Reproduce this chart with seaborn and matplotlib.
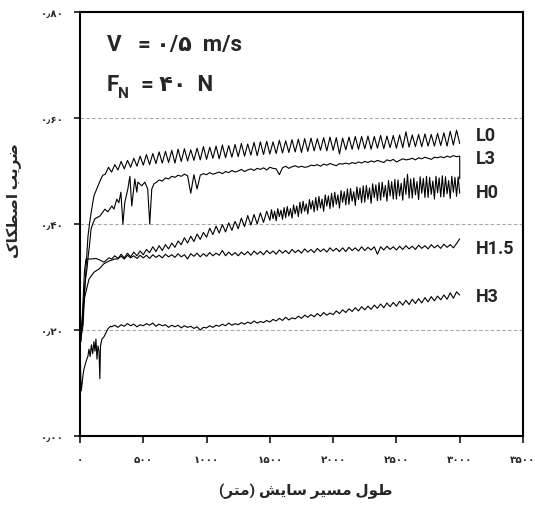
import numpy as np
import pandas as pd
import seaborn as sns
import matplotlib
matplotlib.use("Agg")
import matplotlib.pyplot as plt
from matplotlib.ticker import FuncFormatter

# 1. Data (distance in m, coefficient of friction)

# L0
l0_run_x = [0, 10, 25, 32, 47, 63, 75, 87, 110, 142, 165, 180]
l0_run_y = [0.20, 0.19, 0.21, 0.25, 0.315, 0.377, 0.40, 0.42, 0.453, 0.472, 0.485, 0.492]
l0_start, l0_step = 200, 25
l0_vals = [
    0.494, 0.507, 0.498, 0.512, 0.502, 0.518, 0.504, 0.520, 0.507, 0.524,
    0.509, 0.528, 0.511, 0.531, 0.512, 0.533, 0.514, 0.536, 0.515, 0.537,
    0.516, 0.539, 0.515, 0.541, 0.518, 0.542, 0.519, 0.540, 0.520, 0.543,
    0.521, 0.546, 0.522, 0.545, 0.524, 0.547, 0.523, 0.549, 0.525, 0.548,
    0.526, 0.550, 0.527, 0.552, 0.528, 0.551, 0.530, 0.554, 0.529, 0.555,
    0.531, 0.556, 0.532, 0.555, 0.533, 0.558, 0.534, 0.557, 0.535, 0.559,
    0.536, 0.560, 0.535, 0.561, 0.537, 0.562, 0.538, 0.561, 0.539, 0.563,
    0.538, 0.564, 0.539, 0.563, 0.532, 0.562, 0.540, 0.564, 0.541, 0.565,
    0.541, 0.565, 0.542, 0.566, 0.541, 0.565, 0.543, 0.567, 0.542, 0.566,
    0.544, 0.567, 0.543, 0.568, 0.544, 0.574, 0.545, 0.568, 0.546, 0.569,
    0.546, 0.570, 0.547, 0.569, 0.547, 0.571, 0.548, 0.572, 0.547, 0.575,
    0.549, 0.577, 0.552]

# L3
l3_run_x = [0, 10, 25, 40, 55, 65, 75, 87, 100, 118, 157, 197, 220, 252, 268, 291,
            307, 323, 339, 354, 378, 394, 409, 433, 449, 457, 488, 512, 535, 551, 567, 585]
l3_run_y = [0.19, 0.20, 0.24, 0.29, 0.315, 0.34, 0.36, 0.39, 0.40, 0.41, 0.415, 0.428,
            0.423, 0.434, 0.428, 0.447, 0.44, 0.46, 0.40, 0.441, 0.466, 0.49, 0.434, 0.485,
            0.46, 0.479, 0.472, 0.479, 0.466, 0.40, 0.466, 0.476]
l3_start, l3_step = 600, 25
l3_vals = [
    0.478, 0.483, 0.481, 0.487, 0.485, 0.490, 0.488, 0.492, 0.490, 0.494,
    0.491, 0.458, 0.493, 0.466, 0.492, 0.495, 0.493, 0.497, 0.494, 0.496,
    0.498, 0.495, 0.499, 0.497, 0.501, 0.498, 0.500, 0.503, 0.499, 0.502,
    0.504, 0.501, 0.505, 0.503, 0.506, 0.502, 0.507, 0.505, 0.504, 0.493,
    0.506, 0.509, 0.505, 0.508, 0.510, 0.507, 0.509, 0.507, 0.508, 0.511,
    0.510, 0.512, 0.509, 0.513, 0.511, 0.514, 0.512, 0.510, 0.514, 0.513,
    0.515, 0.513, 0.516, 0.514, 0.517, 0.515, 0.518, 0.516, 0.519, 0.517,
    0.520, 0.518, 0.516, 0.521, 0.519, 0.522, 0.517, 0.520, 0.523, 0.521,
    0.522, 0.524, 0.521, 0.525, 0.523, 0.526, 0.524, 0.522, 0.526, 0.525,
    0.527, 0.525, 0.528, 0.526, 0.529, 0.527, 0.528]
l3_end_x = [3000]
l3_end_y = [0.485]

# H0
h0_run_x = [0, 8, 24, 35, 47, 71, 110, 150, 189, 228, 276]
h0_run_y = [0.20, 0.178, 0.23, 0.26, 0.272, 0.296, 0.309, 0.315, 0.325, 0.33, 0.334]
h0_start, h0_step = 300, 25
h0_vals = [
    0.334, 0.343, 0.336, 0.345, 0.338, 0.347, 0.340, 0.349, 0.342, 0.352,
    0.346, 0.357, 0.348, 0.359, 0.350, 0.361, 0.353, 0.364, 0.356, 0.368,
    0.361, 0.374, 0.364, 0.377, 0.367, 0.381, 0.371, 0.384, 0.375, 0.392,
    0.380, 0.396, 0.383, 0.399, 0.385, 0.402, 0.388, 0.405, 0.391, 0.411,
    0.395, 0.416, 0.398, 0.418, 0.400, 0.421, 0.403, 0.424]
# second half of H0 is a noisy band, read at a finer step
h0_late_start, h0_late_step = 1500, 12.5
h0_late_vals = [
    0.407, 0.427, 0.410, 0.424, 0.406, 0.429, 0.414, 0.426, 0.409, 0.431,
    0.412, 0.433, 0.415, 0.429, 0.411, 0.436, 0.419, 0.434, 0.414, 0.441,
    0.420, 0.443, 0.424, 0.438, 0.419, 0.446, 0.428, 0.444, 0.423, 0.450,
    0.426, 0.452, 0.430, 0.447, 0.424, 0.455, 0.434, 0.453, 0.429, 0.458,
    0.432, 0.460, 0.437, 0.455, 0.430, 0.463, 0.441, 0.461, 0.436, 0.466,
    0.437, 0.467, 0.443, 0.461, 0.435, 0.470, 0.446, 0.468, 0.440, 0.472,
    0.441, 0.473, 0.447, 0.468, 0.439, 0.476, 0.450, 0.474, 0.444, 0.478,
    0.445, 0.479, 0.451, 0.473, 0.443, 0.482, 0.453, 0.480, 0.447, 0.484,
    0.447, 0.483, 0.453, 0.477, 0.445, 0.486, 0.456, 0.494, 0.449, 0.485,
    0.449, 0.487, 0.455, 0.480, 0.446, 0.489, 0.458, 0.486, 0.450, 0.490,
    0.450, 0.488, 0.456, 0.481, 0.447, 0.490, 0.459, 0.487, 0.451, 0.491,
    0.451, 0.489, 0.457, 0.482, 0.448, 0.490, 0.460, 0.488, 0.452, 0.489,
    0.458]

# H1.5
h15_run_x = [0, 15, 25, 35, 47, 90, 126, 157, 189, 228]
h15_run_y = [0.20, 0.21, 0.26, 0.31, 0.334, 0.334, 0.335, 0.332, 0.328, 0.336]
h15_start, h15_step = 250, 25
h15_vals = [
    0.334, 0.340, 0.335, 0.339, 0.334, 0.341, 0.336, 0.340, 0.335, 0.341,
    0.336, 0.341, 0.335, 0.342, 0.337, 0.341, 0.336, 0.343, 0.338, 0.342,
    0.337, 0.344, 0.338, 0.342, 0.334, 0.344, 0.339, 0.345, 0.338, 0.344,
    0.339, 0.346, 0.340, 0.345, 0.341, 0.350, 0.340, 0.347, 0.341, 0.346,
    0.340, 0.347, 0.342, 0.348, 0.341, 0.349, 0.343, 0.348, 0.342, 0.350,
    0.344, 0.349, 0.343, 0.351, 0.345, 0.350, 0.344, 0.352, 0.346, 0.351,
    0.345, 0.353, 0.347, 0.352, 0.346, 0.354, 0.348, 0.353, 0.347, 0.355,
    0.349, 0.354, 0.348, 0.355, 0.348, 0.356, 0.350, 0.355, 0.349, 0.357,
    0.350, 0.356, 0.351, 0.357, 0.343, 0.357, 0.351, 0.358, 0.352, 0.357,
    0.351, 0.358, 0.352, 0.359, 0.353, 0.358, 0.352, 0.360, 0.354, 0.359,
    0.353, 0.361, 0.355, 0.360, 0.354, 0.362, 0.356, 0.361, 0.355, 0.363,
    0.372]

# H3
h3_run_x = [0, 5, 10, 24, 31, 47, 63, 71, 80, 90, 100, 110, 118, 126, 134, 142,
            150, 157, 162, 173, 189, 220, 240]
h3_run_y = [0.19, 0.12, 0.085, 0.115, 0.126, 0.14, 0.151, 0.164, 0.15, 0.172, 0.155,
            0.178, 0.16, 0.183, 0.145, 0.17, 0.16, 0.108, 0.17, 0.183, 0.187, 0.202, 0.207]
h3_start, h3_step = 250, 25
h3_vals = [
    0.206, 0.209, 0.205, 0.210, 0.207, 0.212, 0.208, 0.211, 0.206, 0.210,
    0.208, 0.212, 0.209, 0.213, 0.207, 0.211, 0.208, 0.210, 0.205, 0.209,
    0.206, 0.209, 0.204, 0.208, 0.205, 0.207, 0.203, 0.206, 0.200, 0.205,
    0.204, 0.208, 0.205, 0.209, 0.207, 0.211, 0.208, 0.213, 0.209, 0.212,
    0.210, 0.214, 0.211, 0.215, 0.212, 0.217, 0.213, 0.216, 0.214, 0.218,
    0.215, 0.220, 0.217, 0.222, 0.218, 0.224, 0.219, 0.223, 0.221, 0.226,
    0.222, 0.228, 0.224, 0.229, 0.225, 0.231, 0.226, 0.233, 0.228, 0.232,
    0.229, 0.236, 0.231, 0.238, 0.233, 0.240, 0.235, 0.242, 0.236, 0.244,
    0.238, 0.245, 0.239, 0.247, 0.241, 0.249, 0.242, 0.251, 0.244, 0.252,
    0.245, 0.254, 0.247, 0.256, 0.248, 0.258, 0.250, 0.259, 0.251, 0.261,
    0.253, 0.263, 0.255, 0.264, 0.257, 0.266, 0.258, 0.270, 0.260, 0.272,
    0.266]

# curve labels and where they sit
labels = ["L0", "L3", "H0", "H1.5", "H3"]
label_y = [0.567, 0.525, 0.461, 0.354, 0.264]
label_x = 3126

x_ticks = [0, 500, 1000, 1500, 2000, 2500, 3000, 3500]
y_ticks = [0.0, 0.2, 0.4, 0.6, 0.8]

# text is stored in visual (left-to-right) order with joined letter forms,
# matplotlib does no Arabic shaping itself
y_title = "\uFB8E\uFE8E\uFB91\uFEC4\uFEBB\uFE8D \uFE90\uFEF3\uFEAE\uFEBF"  # ضریب اصطکاک
x_title = ("(\uFEAE\uFE98\uFEE3) \uFEB6\uFEF3\uFE8E\uFEB3 "
           "\uFEAE\uFEF4\uFEB4\uFEE3 \uFEDD\uFEEE\uFEC3")  # طول مسیر سایش (متر)


# 2. Build a long table
def build(name, run_x, run_y, parts, end_x=(), end_y=()):
    x, y = list(run_x), list(run_y)
    for start, stp, vals in parts:
        x += list(start + stp * np.arange(len(vals)))
        y += list(vals)
    x += list(end_x)
    y += list(end_y)
    return pd.DataFrame({"dist": x, "cof": y, "sample": name})


df = pd.concat([
    build("L0", l0_run_x, l0_run_y, [(l0_start, l0_step, l0_vals)]),
    build("L3", l3_run_x, l3_run_y, [(l3_start, l3_step, l3_vals)], l3_end_x, l3_end_y),
    build("H0", h0_run_x, h0_run_y, [(h0_start, h0_step, h0_vals),
                                     (h0_late_start, h0_late_step, h0_late_vals)]),
    build("H1.5", h15_run_x, h15_run_y, [(h15_start, h15_step, h15_vals)]),
    build("H3", h3_run_x, h3_run_y, [(h3_start, h3_step, h3_vals)]),
], ignore_index=True)

# 3. Plot
sns.set_style("ticks")
plt.rcParams["font.family"] = ["Roboto", "DejaVu Sans"]

fig = plt.figure(figsize=(5.35, 5.06), dpi=100)
ax = fig.add_axes([80 / 535, 1 - 437 / 506, 443 / 535, 424 / 506])

for name in labels:
    sub = df[df["sample"] == name]
    sns.lineplot(data=sub, x="dist", y="cof", estimator=None, sort=False,
                 color="black", lw=0.8, ax=ax)

ax.set_xlim(0, 3500)
ax.set_ylim(0, 0.8)
ax.set_xticks(x_ticks)
ax.set_yticks(y_ticks)

fa = str.maketrans("0123456789.", "۰۱۲۳۴۵۶۷۸۹٫")
ax.xaxis.set_major_formatter(FuncFormatter(lambda v, p: f"{v:.0f}".translate(fa)))
ax.yaxis.set_major_formatter(FuncFormatter(lambda v, p: f"{v:.2f}".translate(fa)))
for t in ax.get_xticklabels() + ax.get_yticklabels():
    t.set_fontweight("bold")
    t.set_fontsize(7.5)

ax.tick_params(axis="x", direction="out", length=5, width=1.3, pad=8, bottom=True)
ax.tick_params(axis="y", direction="out", length=4, width=1.3, pad=8, left=True)

for s in ax.spines.values():
    s.set_visible(True)
    s.set_linewidth(1.5)
    s.set_color("black")

ax.yaxis.grid(True, color="#a8a8a8", lw=0.8, linestyle=(0, (3.2, 2)))
ax.set_axisbelow(True)

ax.set_xlabel(x_title, fontsize=11, fontweight="bold")
ax.set_ylabel(y_title, fontsize=11, fontweight="bold")
ax.xaxis.set_label_coords(0.51, -0.11)
ax.yaxis.set_label_coords(-0.13, 0.557)

for name, ly in zip(labels, label_y):
    ax.text(label_x, ly, name, fontsize=13, fontweight="bold", va="center", ha="left")

ax.text(212, 0.74, "V   = ۰/۵  m/s", fontsize=16, fontweight="bold", va="center")
ax.text(212, 0.664, "F", fontsize=16, fontweight="bold", va="center")
ax.text(300, 0.648, "N", fontsize=11, fontweight="bold", va="center")
ax.text(480, 0.664, "= ۴۰  N", fontsize=16, fontweight="bold", va="center")

fig.savefig("out.png", dpi=100)
